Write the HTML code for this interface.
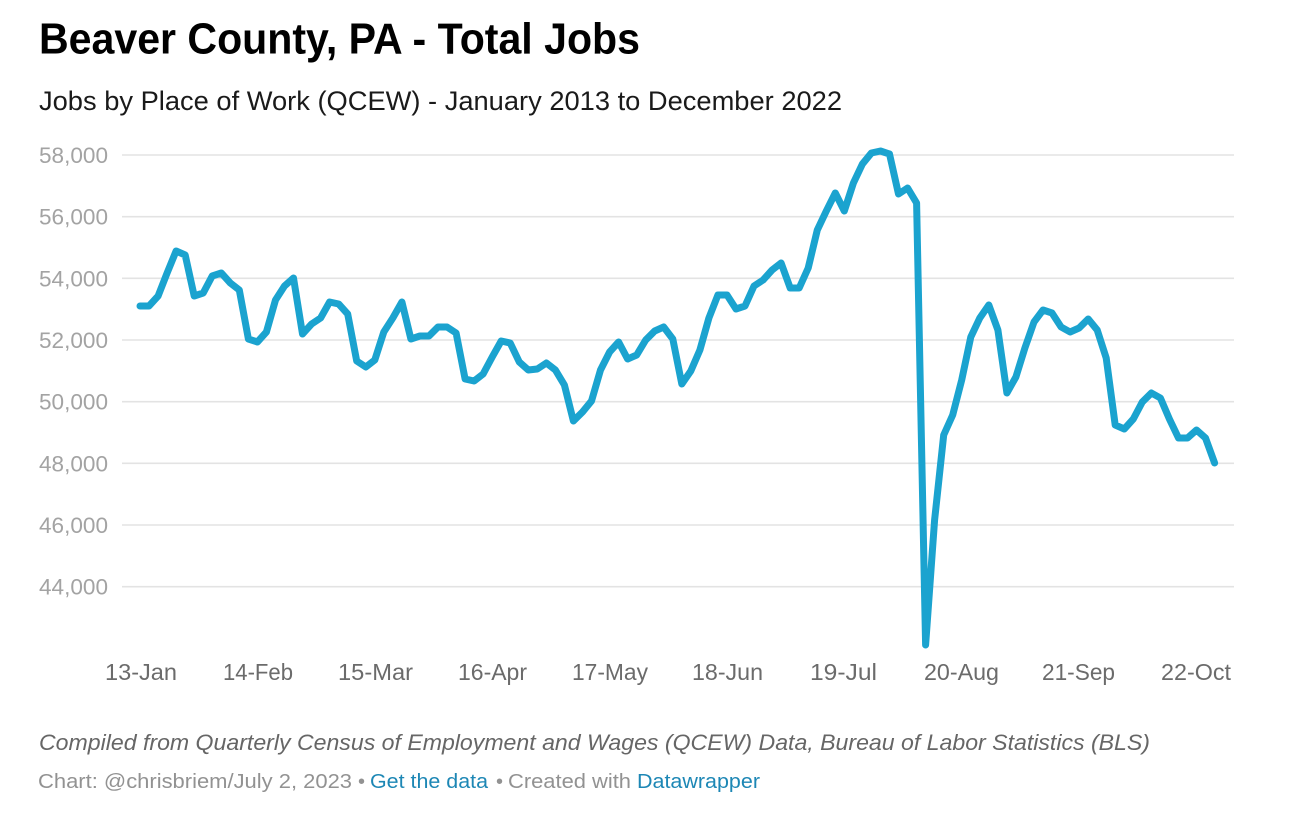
<!DOCTYPE html>
<html>
<head>
<meta charset="utf-8">
<style>
html,body{margin:0;padding:0;background:#fff;}
body{width:1298px;height:835px;overflow:hidden;}
svg{display:block;}
text{font-family:"Liberation Sans",Arial,sans-serif;}
</style>
</head>
<body>
<svg width="1298" height="835" viewBox="0 0 1298 835" xmlns="http://www.w3.org/2000/svg">
  <rect x="0" y="0" width="1298" height="835" fill="#fff"/>
  <!-- Title -->
  <text x="39" y="53.5" font-size="44" font-weight="bold" fill="#000" textLength="601" lengthAdjust="spacingAndGlyphs">Beaver County, PA - Total Jobs</text>
  <text x="39" y="110" font-size="27" fill="#1a1a1a" textLength="803" lengthAdjust="spacingAndGlyphs">Jobs by Place of Work (QCEW) - January 2013 to December 2022</text>

  <!-- Gridlines -->
  <g stroke="#e3e3e3" stroke-width="1.6">
    <line x1="122" y1="155" x2="1234" y2="155"/>
    <line x1="122" y1="216.7" x2="1234" y2="216.7"/>
    <line x1="122" y1="278.3" x2="1234" y2="278.3"/>
    <line x1="122" y1="340" x2="1234" y2="340"/>
    <line x1="122" y1="401.7" x2="1234" y2="401.7"/>
    <line x1="122" y1="463.3" x2="1234" y2="463.3"/>
    <line x1="122" y1="525" x2="1234" y2="525"/>
    <line x1="122" y1="586.7" x2="1234" y2="586.7"/>
  </g>

  <!-- Y labels -->
  <g font-size="22" fill="#a3a3a3">
    <text x="39" y="163" textLength="69" lengthAdjust="spacingAndGlyphs">58,000</text>
    <text x="39" y="224.7" textLength="69" lengthAdjust="spacingAndGlyphs">56,000</text>
    <text x="39" y="286.3" textLength="69" lengthAdjust="spacingAndGlyphs">54,000</text>
    <text x="39" y="348" textLength="69" lengthAdjust="spacingAndGlyphs">52,000</text>
    <text x="39" y="409.7" textLength="69" lengthAdjust="spacingAndGlyphs">50,000</text>
    <text x="39" y="471.3" textLength="69" lengthAdjust="spacingAndGlyphs">48,000</text>
    <text x="39" y="533" textLength="69" lengthAdjust="spacingAndGlyphs">46,000</text>
    <text x="39" y="594.7" textLength="69" lengthAdjust="spacingAndGlyphs">44,000</text>
  </g>

  <!-- X labels -->
  <g font-size="23" fill="#6b6b6b">
    <text x="105" y="680" textLength="72" lengthAdjust="spacingAndGlyphs">13-Jan</text>
    <text x="223" y="680" textLength="70" lengthAdjust="spacingAndGlyphs">14-Feb</text>
    <text x="338" y="680" textLength="75" lengthAdjust="spacingAndGlyphs">15-Mar</text>
    <text x="458" y="680" textLength="69" lengthAdjust="spacingAndGlyphs">16-Apr</text>
    <text x="572" y="680" textLength="76" lengthAdjust="spacingAndGlyphs">17-May</text>
    <text x="692" y="680" textLength="71" lengthAdjust="spacingAndGlyphs">18-Jun</text>
    <text x="810" y="680" textLength="67" lengthAdjust="spacingAndGlyphs">19-Jul</text>
    <text x="924" y="680" textLength="75" lengthAdjust="spacingAndGlyphs">20-Aug</text>
    <text x="1042" y="680" textLength="73" lengthAdjust="spacingAndGlyphs">21-Sep</text>
    <text x="1161" y="680" textLength="70" lengthAdjust="spacingAndGlyphs">22-Oct</text>
  </g>

  <!-- Series -->
  <polyline fill="none" stroke="#1ba3cf" stroke-width="7" stroke-linejoin="round" stroke-linecap="round"
    points="140.0,306 149.0,306 158.1,296 167.1,273 176.1,251 185.2,255 194.2,296 203.2,293 212.2,276 221.3,273 230.3,283 239.3,290 248.4,339 257.4,342 266.4,332 275.5,300 284.5,286 293.5,278 302.5,334 311.6,324 320.6,318 329.6,302 338.7,304 347.7,314 356.7,361 365.8,367 374.8,360 383.8,332 392.8,318 401.9,302 410.9,339 419.9,336 429.0,336 438.0,327 447.0,327 456.1,333 465.1,379 474.1,381 483.1,374 492.2,357 501.2,341 510.2,343 519.3,362 528.3,370 537.3,369 546.4,363 555.4,370 564.4,385 573.4,421 582.5,412 591.5,401 600.5,370 609.6,352 618.6,342 627.6,359 636.7,355 645.7,340 654.7,331 663.7,327 672.8,339 681.8,384 690.8,371 699.9,350 708.9,318 717.9,295 727.0,295 736.0,309 745.0,306 754.0,286 763.1,280 772.1,270 781.1,263 790.2,288 799.2,288 808.2,268 817.3,230 826.3,211 835.3,193 844.3,211 853.4,183 862.4,164 871.4,153 880.5,151 889.5,154 898.5,194 907.6,188 916.6,203 925.6,645 934.6,520 943.7,435 952.7,415 961.7,380 970.8,337 979.8,318 988.8,305 997.9,330 1006.9,393 1015.9,377 1024.9,348 1034.0,322 1043.0,310 1052.0,313 1061.1,327 1070.1,332 1079.1,328 1088.2,319 1097.2,330 1106.2,358 1115.2,425 1124.3,429 1133.3,419 1142.3,402 1151.4,393 1160.4,398 1169.4,419 1178.5,438 1187.5,438 1196.5,430 1205.5,438 1214.6,463"/>

  <!-- Notes -->
  <text x="39" y="750" font-size="22" font-style="italic" fill="#666" textLength="1111" lengthAdjust="spacingAndGlyphs">Compiled from Quarterly Census of Employment and Wages (QCEW) Data, Bureau of Labor Statistics (BLS)</text>
  <g font-size="20">
    <text x="38" y="788" fill="#929292" textLength="314" lengthAdjust="spacingAndGlyphs">Chart: @chrisbriem/July 2, 2023</text>
    <text x="358" y="788" fill="#929292">•</text>
    <text x="370" y="788" fill="#1d87b5" textLength="118" lengthAdjust="spacingAndGlyphs">Get the data</text>
    <text x="496" y="788" fill="#929292">•</text>
    <text x="508" y="788" fill="#929292" textLength="123" lengthAdjust="spacingAndGlyphs">Created with</text>
    <text x="637" y="788" fill="#1d87b5" textLength="123" lengthAdjust="spacingAndGlyphs">Datawrapper</text>
  </g>
</svg>
</body>
</html>
